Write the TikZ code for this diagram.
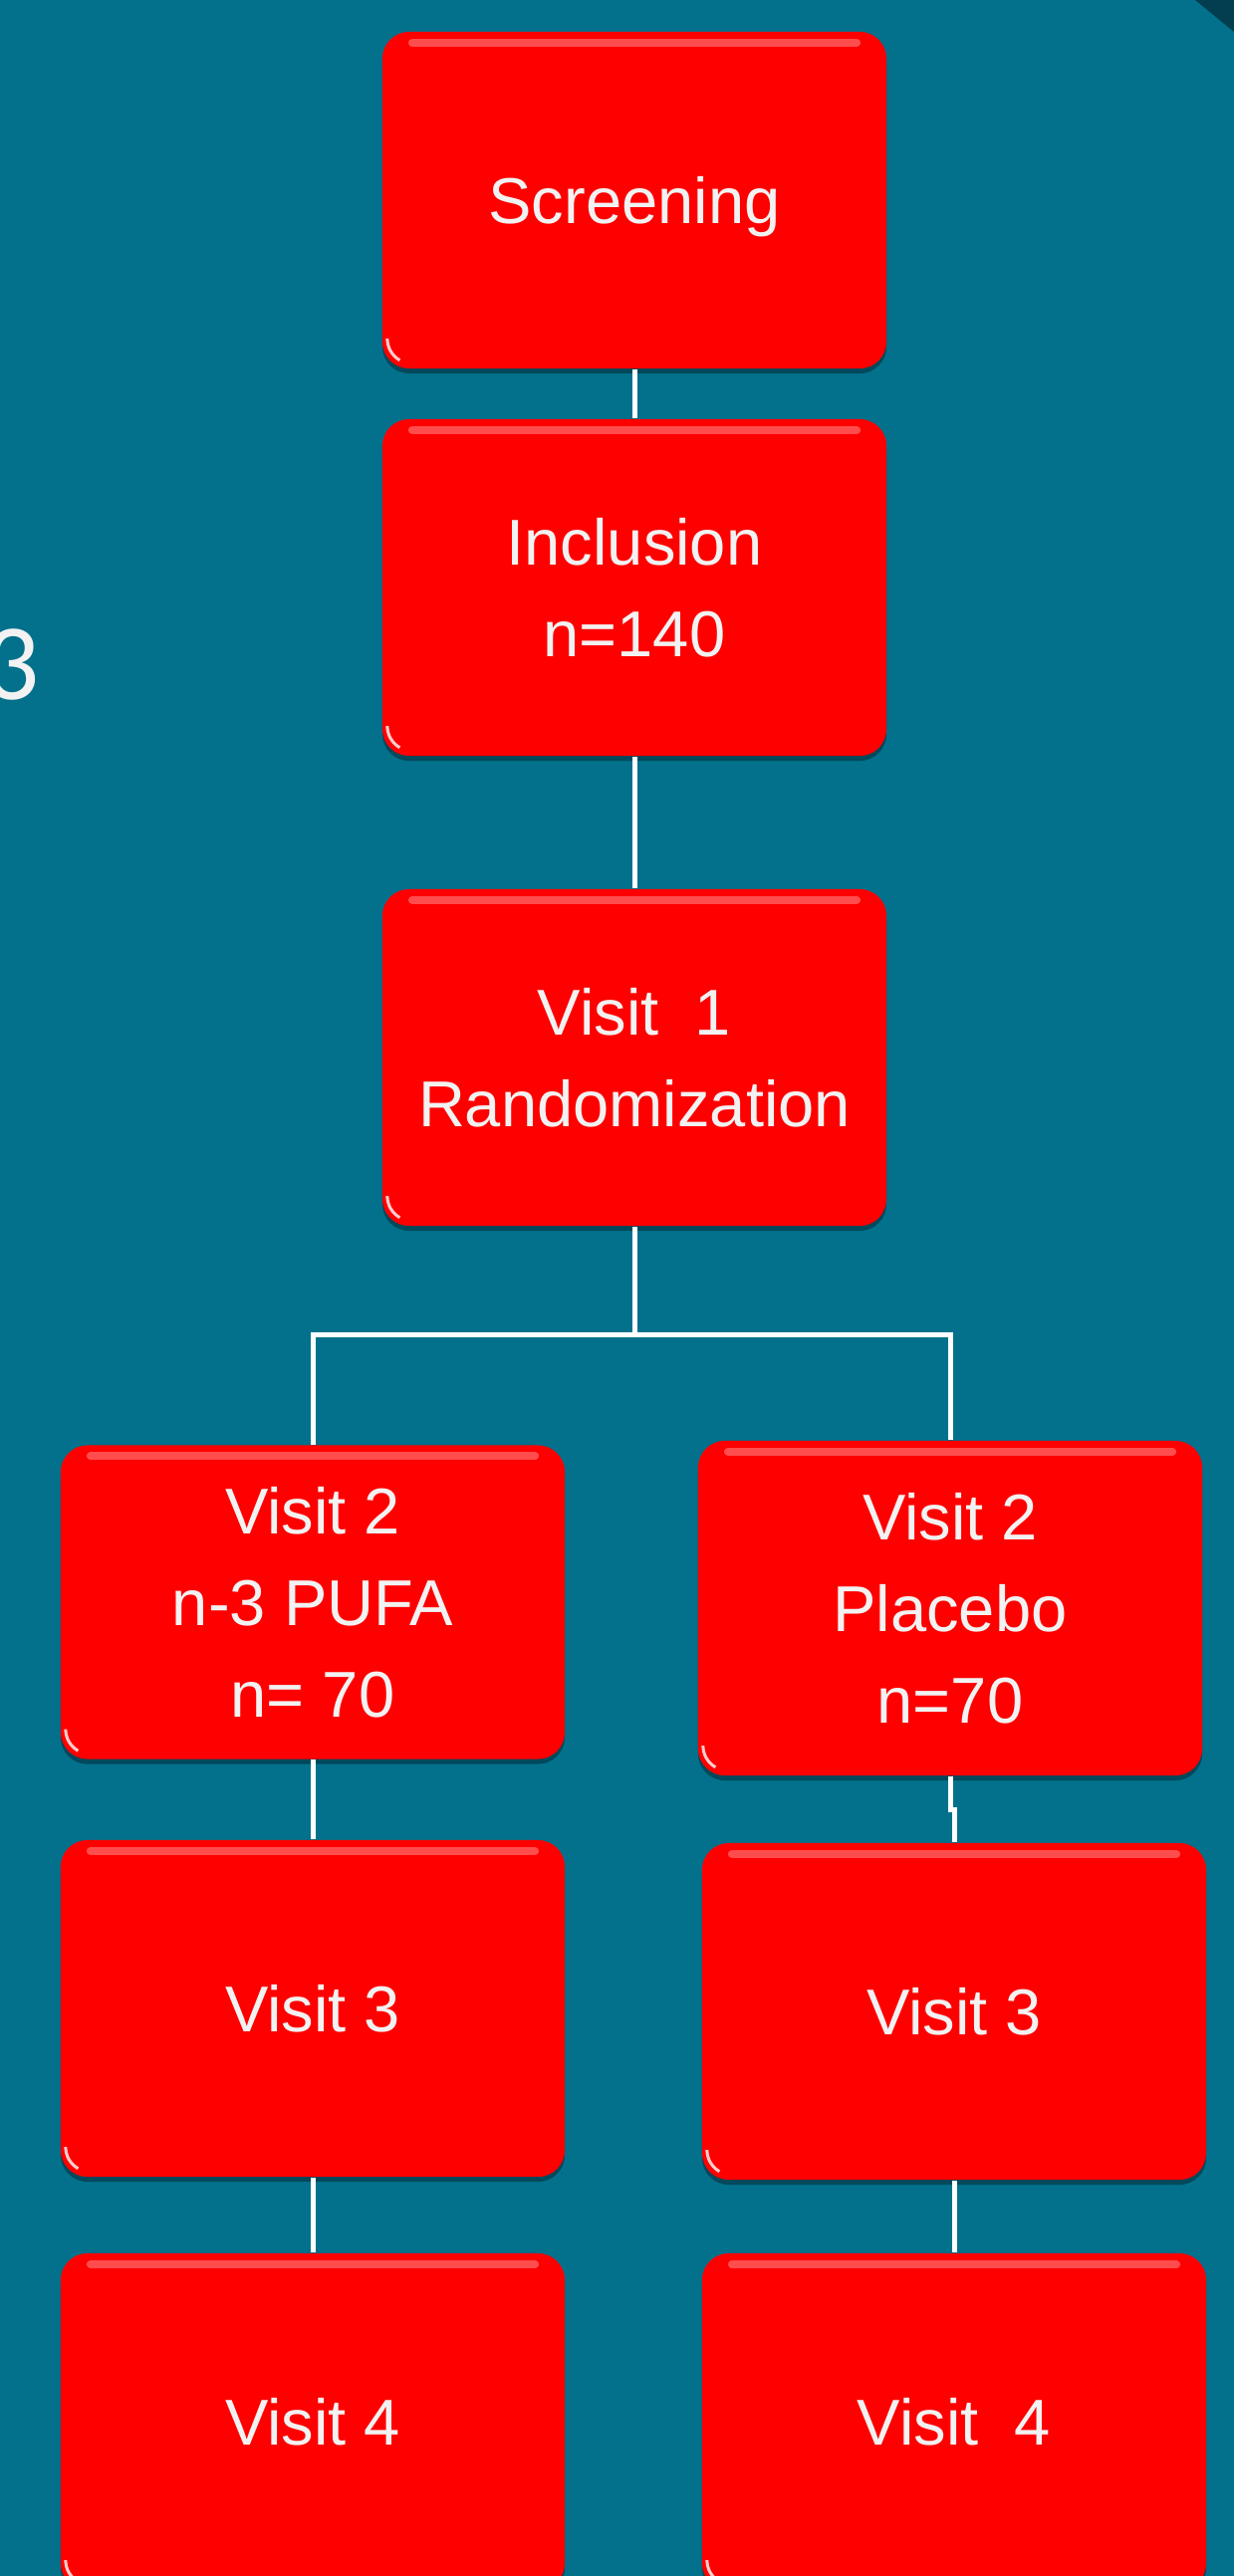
\documentclass[tikz,border=0pt]{standalone}
\usepackage{fontspec}
\setmainfont{Liberation Sans}
\newfontfamily\titlefont{Carlito}
\usetikzlibrary{calc,shadows}

\definecolor{slideteal}{RGB}{3,113,140}
\definecolor{cornerteal}{RGB}{2,62,80}
\definecolor{textwhite}{RGB}{242,242,242}

\tikzset{
  visitbox/.style={
    rectangle, rounded corners=0.27cm, fill=red, text=textwhite,
    minimum width=5.06cm, minimum height=3.38cm, align=center,
    font=\fontsize{18.5}{26.2}\selectfont,
    drop shadow={shadow xshift=0pt, shadow yshift=-0.05cm, opacity=.35, fill=black},
    path picture={
      \draw[white, opacity=.3, line width=0.08cm, line cap=round]
        ([xshift=0.3cm,yshift=-0.11cm]path picture bounding box.north west) --
        ([xshift=-0.3cm,yshift=-0.11cm]path picture bounding box.north east);
      \draw[white, opacity=.8, line width=0.03cm]
        ([xshift=0.05cm,yshift=0.3cm]path picture bounding box.south west)
        arc[start angle=180, end angle=240, radius=0.25cm];
    }
  },
  link/.style={draw=white, line width=0.05cm}
}

\begin{document}
\begin{tikzpicture}[x=0.01cm, y=-0.01cm]

% slide background
\useasboundingbox (0,0) rectangle (1239,2587);
\clip (0,0) rectangle (1239,2587);
\fill[slideteal] (0,0) rectangle (1239,2587);
\fill[cornerteal] (1200,0) -- (1239,0) -- (1239,32) -- cycle;

% cut-off title digit at the left edge
\node[anchor=base east, inner sep=0pt, text=textwhite,
      font=\titlefont\fontsize{31}{36}\selectfont] (title) at (40,702) {3};

% main column
\node[visitbox, text depth=0pt] (screen) at (637,201) {Screening};
\node[visitbox] (incl) at (637,590) {Inclusion\\n=140};
\node[visitbox] (visit1) at (637,1062) {Visit~~1\\Randomization};

% n-3 PUFA arm
\node[visitbox, minimum height=3.15cm] (pufa2) at (314,1609) {Visit 2\\n-3 PUFA\\n= 70};
\node[visitbox] (pufa3) at (314,2017) {Visit 3};
\node[visitbox] (pufa4) at (314,2432) {Visit 4};

% placebo arm
\node[visitbox, minimum height=3.36cm] (plac2) at (954,1615) {Visit 2\\Placebo\\n=70};
\node[visitbox] (plac3) at (958,2020) {Visit 3};
\node[visitbox] (plac4) at (958,2432) {Visit~~4};

% connectors
\coordinate (split) at (637,1340);
\draw[link] (screen) -- (incl);
\draw[link] (incl) -- (visit1);
\draw[link] (visit1) -- (split);
\draw[link] (pufa2.north) |- (split) -| (plac2.north);
\draw[link] (pufa2) -- (pufa3);
\draw[link] (pufa3) -- (pufa4);
\draw[link] (plac2.south) |- ($(plac2.south)!.5!(plac3.north)$) -| (plac3.north);
\draw[link] (plac3) -- (plac4);

\end{tikzpicture}
\end{document}
